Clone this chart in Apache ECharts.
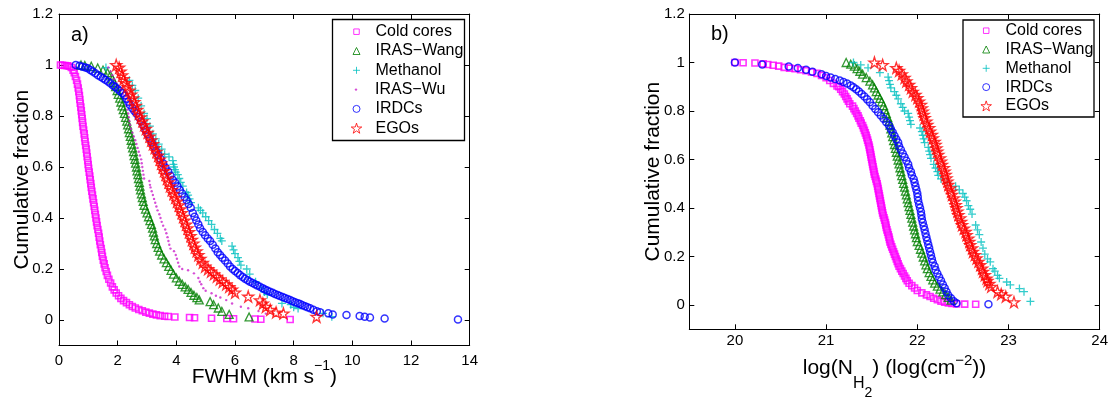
<!DOCTYPE html>
<html><head><meta charset="utf-8">
<script src="https://cdn.jsdelivr.net/npm/echarts@6/dist/echarts.min.js"></script>
<style>html,body{margin:0;padding:0;background:#fff}#c{width:1110px;height:400px}</style>
</head><body><div id="c"></div>
<script>
// ---------------- data ----------------
const namesA = ['Cold cores','IRAS\u2212Wang','Methanol','IRAS\u2212Wu','IRDCs','EGOs'];
const namesB = ['Cold cores','IRAS\u2212Wang','Methanol','IRDCs','EGOs'];
const yTicks = [0,0.2,0.4,0.6,0.8,1,1.2];
const xTicksA = [0,2,4,6,8,10,12,14];
const xTicksB = [20,21,22,23,24];

// panel a) FWHM (km/s), cumulative fraction
const coldCoresA = [[0.05,1.0],[0.12,0.999],[0.2,0.998],[0.28,0.997],[0.35,0.995],[0.42,0.99],[0.48,0.98],[0.52,0.97],[0.56,0.955],[0.6,0.94],[0.63,0.925],[0.655,0.91],[0.675,0.895],[0.695,0.88],[0.71,0.865],[0.725,0.85],[0.745,0.835],[0.76,0.82],[0.775,0.805],[0.79,0.79],[0.805,0.775],[0.82,0.76],[0.84,0.745],[0.86,0.73],[0.875,0.715],[0.89,0.7],[0.91,0.685],[0.93,0.67],[0.945,0.655],[0.96,0.64],[0.98,0.625],[0.995,0.61],[1.01,0.595],[1.03,0.58],[1.05,0.565],[1.065,0.55],[1.085,0.535],[1.1,0.52],[1.12,0.505],[1.14,0.49],[1.16,0.475],[1.18,0.46],[1.2,0.445],[1.22,0.43],[1.24,0.415],[1.26,0.4],[1.28,0.385],[1.3,0.37],[1.325,0.355],[1.35,0.34],[1.37,0.325],[1.39,0.31],[1.41,0.295],[1.44,0.28],[1.46,0.265],[1.48,0.25],[1.51,0.235],[1.54,0.22],[1.57,0.205],[1.61,0.19],[1.65,0.175],[1.7,0.16],[1.76,0.145],[1.82,0.13],[1.88,0.118],[1.95,0.106],[2.03,0.095],[2.11,0.085],[2.2,0.076],[2.3,0.068],[2.4,0.06],[2.5,0.053],[2.6,0.047],[2.72,0.041],[2.84,0.036],[2.96,0.031],[3.08,0.027],[3.2,0.023],[3.32,0.02],[3.45,0.017],[3.6,0.015],[3.72,0.014],[3.95,0.012],[4.45,0.01],[4.62,0.009],[5.2,0.007],[5.72,0.006],[5.95,0.005],[6.68,0.004],[6.88,0.003],[7.88,0.002]];
const irasWangA = [[0.75,1.0],[0.88,0.998],[1.1,0.995],[1.32,0.988],[1.5,0.98],[1.65,0.97],[1.75,0.96],[1.82,0.945],[1.88,0.93],[1.93,0.915],[1.98,0.9],[2.02,0.885],[2.07,0.87],[2.11,0.855],[2.15,0.84],[2.19,0.825],[2.23,0.81],[2.27,0.795],[2.31,0.78],[2.34,0.765],[2.37,0.75],[2.4,0.735],[2.43,0.72],[2.46,0.705],[2.48,0.69],[2.51,0.675],[2.54,0.66],[2.56,0.645],[2.59,0.63],[2.61,0.615],[2.64,0.6],[2.66,0.585],[2.69,0.57],[2.71,0.555],[2.74,0.54],[2.76,0.525],[2.78,0.51],[2.81,0.495],[2.84,0.48],[2.87,0.465],[2.9,0.45],[2.95,0.435],[3.0,0.42],[3.05,0.405],[3.1,0.39],[3.15,0.375],[3.19,0.36],[3.22,0.345],[3.25,0.33],[3.28,0.315],[3.33,0.3],[3.38,0.285],[3.43,0.27],[3.5,0.255],[3.58,0.24],[3.66,0.225],[3.74,0.21],[3.82,0.195],[3.9,0.18],[4.0,0.165],[4.1,0.152],[4.2,0.14],[4.3,0.13],[4.4,0.12],[4.5,0.108],[4.6,0.097],[4.7,0.088],[4.78,0.079],[5.15,0.072],[5.27,0.06],[5.43,0.047],[5.55,0.034],[5.8,0.022],[6.48,0.012]];
const methanolA = [[1.6,0.99],[2.4,0.94],[2.5,0.92],[2.6,0.9],[2.7,0.87],[2.8,0.84],[2.9,0.81],[3.0,0.79],[3.1,0.76],[3.2,0.73],[3.3,0.71],[3.4,0.69],[3.5,0.67],[3.6,0.65],[3.75,0.64],[3.88,0.625],[3.9,0.61],[3.92,0.6],[3.95,0.59],[3.98,0.58],[4.05,0.57],[4.1,0.555],[4.15,0.54],[4.22,0.525],[4.35,0.5],[4.4,0.49],[4.45,0.475],[4.5,0.46],[4.75,0.44],[4.82,0.43],[4.9,0.42],[5.0,0.405],[5.1,0.39],[5.2,0.375],[5.3,0.355],[5.4,0.34],[5.5,0.32],[5.55,0.31],[5.9,0.29],[5.95,0.275],[6.0,0.26],[6.1,0.245],[6.15,0.23],[6.2,0.215],[6.4,0.2],[6.5,0.18],[6.7,0.15],[6.9,0.125],[7.0,0.11],[7.1,0.1],[7.6,0.065],[7.9,0.06],[8.0,0.05],[8.15,0.045],[9.0,0.026],[9.3,0.013]];
const irasWuA = [[1.68,0.99],[1.76,0.975],[1.82,0.96],[1.88,0.945],[1.95,0.93],[2.02,0.915],[2.1,0.9],[2.17,0.885],[2.22,0.87],[2.27,0.855],[2.3,0.84],[2.33,0.825],[2.36,0.81],[2.38,0.795],[2.4,0.78],[2.42,0.765],[2.45,0.75],[2.5,0.735],[2.55,0.72],[2.6,0.705],[2.64,0.69],[2.68,0.675],[2.72,0.66],[2.76,0.645],[2.8,0.63],[2.82,0.615],[2.84,0.6],[2.86,0.585],[2.88,0.57],[2.9,0.555],[3.08,0.545],[3.1,0.53],[3.12,0.52],[3.16,0.505],[3.2,0.49],[3.24,0.475],[3.28,0.46],[3.32,0.445],[3.36,0.43],[3.42,0.415],[3.46,0.4],[3.5,0.385],[3.55,0.37],[3.62,0.355],[3.66,0.34],[3.7,0.325],[3.73,0.31],[3.76,0.295],[3.8,0.28],[3.92,0.27],[3.98,0.255],[4.02,0.24],[4.06,0.225],[4.1,0.21],[4.2,0.2],[4.4,0.195],[4.6,0.183],[4.75,0.165],[4.8,0.15],[4.85,0.14],[4.92,0.125],[5.0,0.115],[5.2,0.105],[5.35,0.095],[5.5,0.088],[5.7,0.078],[5.9,0.065],[6.2,0.052],[6.45,0.046],[6.8,0.035],[7.05,0.025]];
const irdcsA = [[0.57,1.0],[0.7,0.997],[0.8,0.993],[0.9,0.99],[0.98,0.987],[1.07,0.98],[1.15,0.975],[1.24,0.968],[1.33,0.96],[1.42,0.954],[1.5,0.948],[1.58,0.942],[1.67,0.935],[1.75,0.928],[1.84,0.92],[1.92,0.914],[2.0,0.906],[2.08,0.898],[2.16,0.89],[2.24,0.88],[2.3,0.868],[2.36,0.856],[2.42,0.843],[2.5,0.83],[2.57,0.82],[2.64,0.81],[2.72,0.795],[2.8,0.778],[2.88,0.762],[2.95,0.745],[3.02,0.728],[3.09,0.712],[3.16,0.696],[3.23,0.68],[3.3,0.663],[3.38,0.647],[3.46,0.632],[3.55,0.615],[3.63,0.598],[3.72,0.582],[3.8,0.566],[3.88,0.55],[3.96,0.538],[4.04,0.524],[4.12,0.51],[4.2,0.496],[4.28,0.482],[4.35,0.47],[4.42,0.455],[4.49,0.44],[4.56,0.42],[4.62,0.405],[4.68,0.39],[4.75,0.375],[4.81,0.36],[4.9,0.345],[4.98,0.332],[5.07,0.32],[5.15,0.31],[5.24,0.295],[5.33,0.28],[5.41,0.266],[5.49,0.255],[5.57,0.244],[5.66,0.233],[5.75,0.222],[5.83,0.21],[5.92,0.2],[6.0,0.192],[6.09,0.184],[6.17,0.176],[6.26,0.169],[6.34,0.162],[6.43,0.156],[6.51,0.15],[6.6,0.145],[6.68,0.14],[6.76,0.135],[6.85,0.13],[6.94,0.125],[7.02,0.12],[7.1,0.116],[7.19,0.111],[7.28,0.107],[7.36,0.102],[7.45,0.098],[7.53,0.094],[7.62,0.09],[7.7,0.086],[7.79,0.082],[7.88,0.078],[7.96,0.074],[8.05,0.07],[8.14,0.066],[8.22,0.063],[8.3,0.058],[8.39,0.054],[8.47,0.05],[8.56,0.046],[8.67,0.04],[8.79,0.034],[8.9,0.03],[9.18,0.026],[9.33,0.022],[9.8,0.02],[10.25,0.016],[10.42,0.013],[10.6,0.01],[11.1,0.006],[13.6,0.002]];
const egosA = [[1.95,1.0],[2.05,0.99],[2.1,0.975],[2.15,0.96],[2.2,0.945],[2.26,0.93],[2.33,0.915],[2.4,0.9],[2.46,0.885],[2.52,0.87],[2.57,0.855],[2.62,0.84],[2.67,0.825],[2.72,0.81],[2.78,0.795],[2.84,0.78],[2.9,0.765],[2.96,0.75],[3.02,0.735],[3.08,0.72],[3.14,0.705],[3.2,0.69],[3.26,0.675],[3.32,0.66],[3.38,0.645],[3.43,0.63],[3.48,0.615],[3.53,0.6],[3.58,0.585],[3.63,0.57],[3.68,0.555],[3.73,0.54],[3.78,0.525],[3.84,0.51],[3.9,0.495],[3.96,0.48],[4.02,0.465],[4.08,0.45],[4.13,0.435],[4.18,0.42],[4.23,0.405],[4.28,0.39],[4.33,0.375],[4.38,0.36],[4.43,0.345],[4.48,0.33],[4.53,0.315],[4.58,0.3],[4.63,0.285],[4.69,0.27],[4.75,0.255],[4.82,0.24],[4.9,0.225],[4.98,0.21],[5.08,0.2],[5.18,0.19],[5.28,0.18],[5.38,0.17],[5.48,0.16],[5.58,0.15],[5.7,0.14],[5.8,0.13],[5.9,0.12],[6.0,0.108],[6.45,0.092],[6.85,0.078],[6.95,0.065],[7.05,0.052],[7.2,0.04],[7.4,0.03],[7.65,0.026],[8.78,0.013]];

// panel b) log N(H2), cumulative fraction
const coldCoresB = [[20.0,1.0],[20.09,0.999],[20.22,0.998],[20.31,0.995],[20.36,0.992],[20.42,0.989],[20.48,0.985],[20.54,0.98],[20.6,0.977],[20.66,0.974],[20.72,0.97],[20.78,0.966],[20.84,0.961],[20.9,0.955],[20.95,0.947],[21.0,0.937],[21.04,0.926],[21.08,0.914],[21.12,0.903],[21.14,0.9],[21.16,0.89],[21.18,0.88],[21.2,0.87],[21.215,0.86],[21.23,0.85],[21.245,0.84],[21.26,0.83],[21.29,0.82],[21.305,0.81],[21.32,0.8],[21.335,0.79],[21.35,0.78],[21.36,0.77],[21.375,0.76],[21.385,0.75],[21.4,0.74],[21.41,0.73],[21.42,0.72],[21.43,0.71],[21.44,0.7],[21.447,0.69],[21.455,0.68],[21.462,0.67],[21.47,0.66],[21.475,0.65],[21.48,0.64],[21.485,0.63],[21.49,0.62],[21.495,0.61],[21.5,0.6],[21.505,0.59],[21.51,0.58],[21.515,0.57],[21.52,0.56],[21.525,0.55],[21.53,0.54],[21.537,0.53],[21.545,0.52],[21.552,0.51],[21.56,0.5],[21.565,0.49],[21.57,0.48],[21.575,0.47],[21.58,0.46],[21.585,0.45],[21.59,0.44],[21.595,0.43],[21.6,0.42],[21.605,0.41],[21.61,0.4],[21.615,0.39],[21.62,0.38],[21.627,0.37],[21.635,0.36],[21.642,0.35],[21.65,0.34],[21.655,0.33],[21.66,0.32],[21.667,0.31],[21.675,0.3],[21.682,0.29],[21.69,0.28],[21.695,0.27],[21.7,0.26],[21.71,0.25],[21.72,0.24],[21.73,0.23],[21.74,0.22],[21.75,0.21],[21.76,0.2],[21.77,0.19],[21.78,0.18],[21.79,0.17],[21.8,0.16],[21.815,0.15],[21.83,0.14],[21.845,0.13],[21.86,0.12],[21.875,0.11],[21.89,0.1],[21.91,0.09],[21.94,0.08],[21.97,0.07],[22.0,0.06],[22.05,0.05],[22.1,0.042],[22.14,0.035],[22.18,0.028],[22.22,0.022],[22.26,0.016],[22.3,0.012],[22.34,0.009],[22.38,0.007],[22.43,0.005],[22.52,0.004],[22.64,0.003]];
const irasWangB = [[21.22,1.0],[21.27,0.993],[21.31,0.985],[21.34,0.975],[21.37,0.964],[21.4,0.952],[21.44,0.938],[21.48,0.923],[21.51,0.908],[21.53,0.895],[21.55,0.88],[21.57,0.866],[21.59,0.852],[21.61,0.838],[21.63,0.822],[21.645,0.806],[21.66,0.79],[21.675,0.774],[21.69,0.758],[21.7,0.742],[21.71,0.726],[21.72,0.71],[21.73,0.694],[21.74,0.678],[21.75,0.662],[21.76,0.646],[21.77,0.63],[21.78,0.614],[21.79,0.598],[21.8,0.582],[21.81,0.566],[21.82,0.55],[21.83,0.534],[21.84,0.518],[21.85,0.502],[21.86,0.486],[21.87,0.47],[21.88,0.454],[21.89,0.438],[21.9,0.422],[21.91,0.406],[21.92,0.39],[21.93,0.374],[21.94,0.358],[21.95,0.342],[21.96,0.326],[21.97,0.31],[21.98,0.294],[21.99,0.278],[22.0,0.262],[22.02,0.246],[22.035,0.23],[22.05,0.214],[22.065,0.198],[22.08,0.182],[22.095,0.166],[22.11,0.15],[22.13,0.134],[22.15,0.118],[22.17,0.104],[22.19,0.09],[22.22,0.078],[22.25,0.066],[22.28,0.054],[22.31,0.043],[22.34,0.032],[22.37,0.02]];
const methanolB = [[21.3,1.0],[21.38,0.99],[21.46,0.978],[21.59,0.958],[21.68,0.94],[21.69,0.925],[21.7,0.91],[21.71,0.895],[21.75,0.88],[21.77,0.865],[21.79,0.85],[21.82,0.83],[21.84,0.815],[21.86,0.8],[21.9,0.79],[21.91,0.775],[21.92,0.76],[21.93,0.745],[22.03,0.73],[22.05,0.715],[22.06,0.7],[22.07,0.685],[22.08,0.67],[22.12,0.65],[22.13,0.635],[22.14,0.62],[22.15,0.605],[22.18,0.58],[22.2,0.565],[22.22,0.55],[22.23,0.535],[22.26,0.52],[22.33,0.505],[22.42,0.49],[22.46,0.475],[22.5,0.46],[22.52,0.445],[22.54,0.43],[22.56,0.41],[22.58,0.395],[22.6,0.375],[22.64,0.33],[22.66,0.31],[22.68,0.29],[22.7,0.26],[22.72,0.235],[22.74,0.21],[22.77,0.19],[22.8,0.178],[22.83,0.15],[22.85,0.14],[22.88,0.122],[22.9,0.11],[22.98,0.095],[23.02,0.083],[23.12,0.068],[23.17,0.055],[23.24,0.015]];
const irdcsB = [[20.0,1.0],[20.3,0.992],[20.59,0.984],[20.69,0.977],[20.78,0.97],[20.85,0.962],[20.95,0.952],[21.0,0.944],[21.05,0.938],[21.1,0.932],[21.15,0.926],[21.19,0.92],[21.23,0.913],[21.27,0.905],[21.3,0.898],[21.33,0.89],[21.36,0.88],[21.39,0.87],[21.42,0.86],[21.45,0.848],[21.48,0.836],[21.51,0.822],[21.54,0.808],[21.57,0.795],[21.6,0.782],[21.63,0.768],[21.66,0.754],[21.69,0.74],[21.71,0.726],[21.73,0.712],[21.75,0.698],[21.77,0.684],[21.79,0.67],[21.8,0.655],[21.82,0.64],[21.84,0.625],[21.86,0.61],[21.88,0.595],[21.9,0.58],[21.91,0.565],[21.93,0.55],[21.94,0.535],[21.96,0.52],[21.97,0.505],[21.98,0.49],[21.99,0.475],[22.0,0.46],[22.005,0.445],[22.01,0.43],[22.02,0.415],[22.03,0.4],[22.04,0.385],[22.045,0.37],[22.05,0.355],[22.06,0.34],[22.07,0.325],[22.08,0.31],[22.09,0.295],[22.1,0.28],[22.11,0.265],[22.12,0.25],[22.13,0.235],[22.14,0.22],[22.15,0.205],[22.16,0.19],[22.17,0.175],[22.19,0.16],[22.2,0.145],[22.22,0.13],[22.24,0.115],[22.26,0.1],[22.28,0.085],[22.3,0.07],[22.32,0.055],[22.34,0.04],[22.37,0.028],[22.4,0.016],[22.43,0.007],[22.78,0.003]];
const egosB = [[21.53,1.0],[21.62,0.99],[21.77,0.978],[21.8,0.966],[21.83,0.952],[21.86,0.937],[21.88,0.923],[21.91,0.909],[21.93,0.895],[21.95,0.88],[21.98,0.867],[22.0,0.854],[22.02,0.84],[22.04,0.826],[22.05,0.812],[22.06,0.798],[22.07,0.785],[22.08,0.771],[22.1,0.757],[22.11,0.744],[22.13,0.73],[22.14,0.716],[22.16,0.702],[22.17,0.688],[22.19,0.674],[22.2,0.661],[22.21,0.647],[22.22,0.633],[22.23,0.62],[22.25,0.606],[22.26,0.592],[22.27,0.579],[22.29,0.565],[22.3,0.551],[22.31,0.537],[22.32,0.523],[22.33,0.51],[22.34,0.496],[22.36,0.482],[22.37,0.468],[22.38,0.455],[22.4,0.441],[22.41,0.427],[22.42,0.413],[22.43,0.4],[22.44,0.386],[22.45,0.372],[22.47,0.358],[22.48,0.344],[22.49,0.33],[22.51,0.316],[22.53,0.302],[22.54,0.289],[22.56,0.275],[22.57,0.261],[22.58,0.248],[22.6,0.234],[22.61,0.22],[22.63,0.207],[22.65,0.193],[22.67,0.179],[22.69,0.165],[22.71,0.151],[22.72,0.138],[22.74,0.124],[22.76,0.11],[22.77,0.1],[22.79,0.088],[22.81,0.076],[22.88,0.055],[22.92,0.045],[22.97,0.035],[23.06,0.012]];

const dataA = [coldCoresA, irasWangA, methanolA, irasWuA, irdcsA, egosA];
const dataB = [coldCoresB, irasWangB, methanolB, irdcsB, egosB];

// ---------------- styles ----------------
const FONT = '"Liberation Sans", Arial, Helvetica, sans-serif';
const STAR = 'path://M50,2 L61.8,38 L99,38 L69,60 L80.5,96 L50,74 L19.5,96 L31,60 L1,38 L38.2,38 Z';
const PLUS = 'path://M0,5 L10,5 M5,0 L5,10';
const styles = {
  'Cold cores':      {symbol:'rect',     size:6,   color:'#ff00ff', hollow:true,  bw:1.6, lsize:5.5},
  'IRAS\u2212Wang':  {symbol:'triangle', size:8,   color:'#008000', hollow:true,  bw:1.3, lsize:7},
  'Methanol':        {symbol:PLUS,       size:8,   color:'#00bfbf', hollow:true,  bw:1.3, lsize:7},
  'IRAS\u2212Wu':    {symbol:'circle',   size:2.4, color:'#cc22cc', hollow:false, bw:0,   lsize:2.4},
  'IRDCs':           {symbol:'circle',   size:7,   color:'#0000ff', hollow:true,  bw:1.5, lsize:7},
  'EGOs':            {symbol:STAR,       size:11,  color:'#ff0000', hollow:true,  bw:1.3, lsize:10.5}
};

function mkSeries(name, data, xi, yi) {
  const s = styles[name];
  return {
    type:'scatter', name, data, xAxisIndex:xi, yAxisIndex:yi,
    symbol:s.symbol, symbolSize:s.size, silent:true,
    itemStyle: s.hollow ? {color:'transparent', borderColor:s.color, borderWidth:s.bw}
                        : {color:s.color, borderColor:s.color, borderWidth:0},
    emphasis:{disabled:true}, animation:false
  };
}

// ---------------- layout ----------------
const gridA = {left:59, top:14, width:410.7, height:331.5};
const gridB = {left:689.3, top:14, width:410.4, height:315.3};
const line = {color:'#000', width:1};
const tickStyle = {inside:true, length:5, lineStyle:line};

function xAx(g, min, max, ticks, pos, labelMargin, name, nameGap, rich) {
  const a = {gridIndex:g, type:'value', min, max, position:pos,
    axisLine:{show:true, onZero:false, lineStyle:line},
    axisTick:Object.assign({customValues:ticks}, tickStyle),
    splitLine:{show:false},
    axisLabel: pos==='bottom' ? {customValues:ticks, fontSize:15, color:'#000', fontFamily:FONT, margin:labelMargin} : {show:false}
  };
  if (name) {
    Object.assign(a, {name, nameLocation:'middle', nameGap, nameMoveOverlap:false,
      nameTextStyle:{fontFamily:FONT, color:'#000', fontSize:21, rich}});
  }
  return a;
}
function yAx(g, pos, labelMargin) {
  const a = {gridIndex:g, type:'value', min:-0.1, max:1.2, position:pos,
    axisLine:{show:true, onZero:false, lineStyle:line},
    axisTick:Object.assign({customValues:yTicks}, tickStyle),
    splitLine:{show:false},
    axisLabel: pos==='left' ? {customValues:yTicks, fontSize:15, color:'#000', fontFamily:FONT, margin:labelMargin} : {show:false}
  };
  if (pos==='left') Object.assign(a, {name:'Cumulative fraction', nameLocation:'middle', nameGap:26, nameMoveOverlap:false,
      nameTextStyle:{fontFamily:FONT, color:'#000', fontSize:21}});
  return a;
}

const richA = {
  m:{fontSize:21, fontFamily:FONT, color:'#000', verticalAlign:'top', padding:[7,0,0,0]},
  sup:{fontSize:14, fontFamily:FONT, color:'#000', verticalAlign:'top', padding:[0,0,0,0]}
};
const richB = {
  m:{fontSize:21, fontFamily:FONT, color:'#000', verticalAlign:'top', padding:[4,0,0,0]},
  sup:{fontSize:15, fontFamily:FONT, color:'#000', verticalAlign:'top', padding:[0,0,0,0]},
  sub:{fontSize:16, fontFamily:FONT, color:'#000', verticalAlign:'top', padding:[22,0,0,0]},
  sub2:{fontSize:14, fontFamily:FONT, color:'#000', verticalAlign:'top', padding:[33,0,0,0]}
};

function mkLegends(names, markerCx, textX, firstCy, gap) {
  return names.map((n, i) => {
    const s = styles[n].lsize;
    return {
      data:[n], orient:'vertical', left:markerCx - s/2, top:firstCy + i*gap - 10,
      itemWidth:s, itemHeight:s, symbolKeepAspect:true, padding:0, selectedMode:false,
      itemStyle:{borderWidth: styles[n].hollow ? 1 : 0},
      textStyle:{fontSize:16, fontFamily:FONT, color:'#000', lineHeight:20,
                 padding:[0,0,0, textX - (markerCx + s/2) - 5]}
    };
  });
}

const option = {
  backgroundColor:'#fff',
  animation:false,
  grid:[Object.assign({outerBoundsMode:'none'}, gridA), Object.assign({outerBoundsMode:'none'}, gridB)],
  xAxis:[
    xAx(0, 0, 14, xTicksA, 'bottom', 8, '{m|FWHM (km s}{sup|\u22121}{m|)}', 14, richA),
    xAx(0, 0, 14, xTicksA, 'top'),
    xAx(1, 19.5, 24, xTicksB, 'bottom', 4.5, '{m|log(N}{sub|H}{sub2|2}{m|) (log(cm}{sup|\u22122}{m|))}', 24, richB),
    xAx(1, 19.5, 24, xTicksB, 'top')
  ],
  yAxis:[ yAx(0,'left',6), yAx(0,'right'), yAx(1,'left',4.5), yAx(1,'right') ],
  title:[
    {text:'a)', left:71, top:25, padding:0, textStyle:{fontSize:20, fontWeight:'normal', fontFamily:FONT, color:'#000'}},
    {text:'b)', left:711, top:24, padding:0, textStyle:{fontSize:20, fontWeight:'normal', fontFamily:FONT, color:'#000'}}
  ],
  legend: mkLegends(namesA, 356, 375, 31.7, 19.3).concat(mkLegends(namesB, 985.7, 1005, 30.7, 18.8)),
  graphic:[
    {type:'rect', z:3, shape:{x:332.5, y:19.5, width:132, height:121}, style:{fill:'#fff', stroke:'#000', lineWidth:1.3}},
    {type:'rect', z:3, shape:{x:963, y:20, width:131, height:97}, style:{fill:'#fff', stroke:'#000', lineWidth:1.3}}
  ],
  series: namesA.map((n,i)=>mkSeries(n, dataA[i], 0, 0))
          .concat(namesB.map((n,i)=>mkSeries(n, dataB[i], 2, 2)))
};

const chart = echarts.init(document.getElementById('c'), null, {renderer:'canvas'});
chart.setOption(option);
</script>
</body></html>
